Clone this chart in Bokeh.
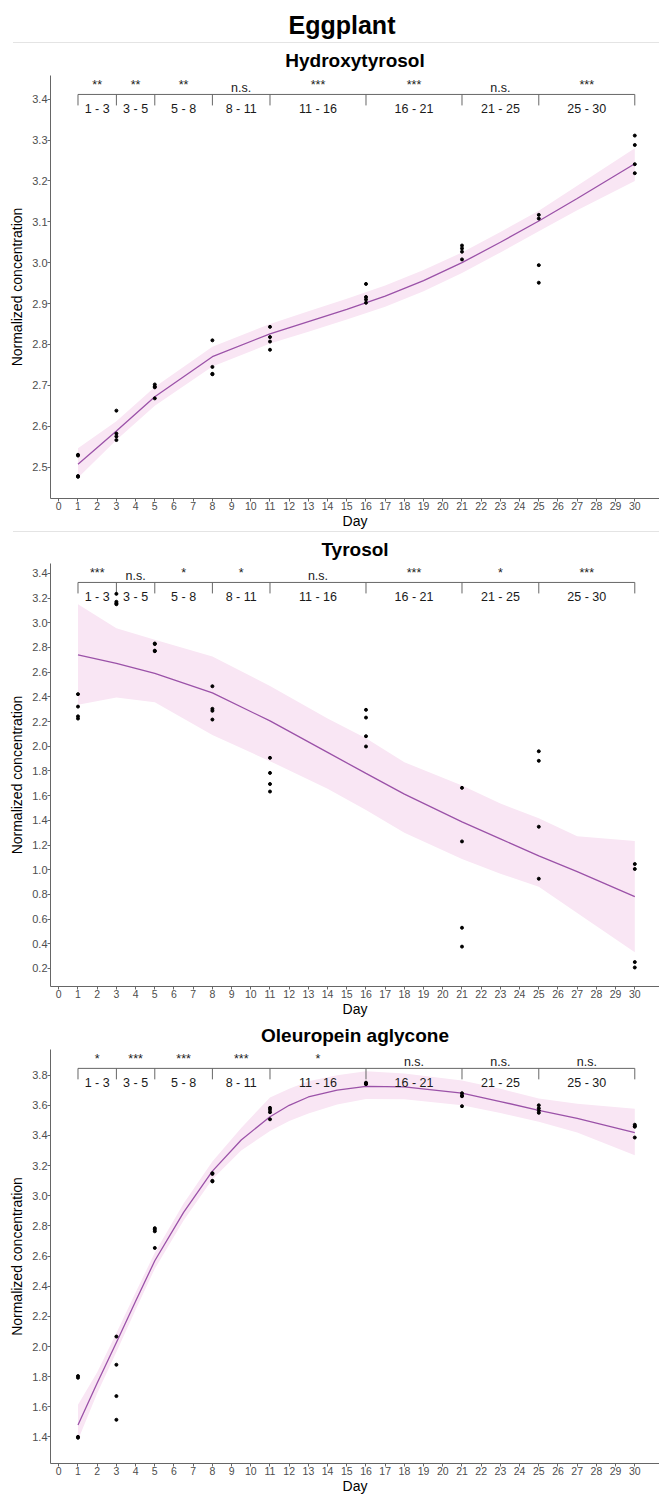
from bokeh.plotting import figure
from bokeh.models import Div, Range1d, FixedTicker, NumeralTickFormatter
from bokeh.layouts import column
from bokeh.embed import file_html
from bokeh.resources import INLINE
from bokeh.core.properties import value

FONT = "Liberation Sans"

# ---------------- data ----------------
bracket_days = [1, 3, 5, 8, 11, 16, 21, 25, 30]
bracket_labels = ["1 - 3", "3 - 5", "5 - 8", "8 - 11", "11 - 16", "16 - 21", "21 - 25", "25 - 30"]

# Hydroxytyrosol
hyd_day = [1, 1, 1, 1, 3, 3, 3, 3, 5, 5, 5, 5, 8, 8, 8, 8, 11, 11, 11, 11,
           16, 16, 16, 16, 21, 21, 21, 21, 25, 25, 25, 25, 30, 30, 30, 30]
hyd_val = [2.530, 2.528, 2.478, 2.476, 2.638, 2.582, 2.575, 2.566, 2.702, 2.697, 2.695, 2.668,
           2.810, 2.745, 2.728, 2.727, 2.843, 2.818, 2.807, 2.787,
           2.948, 2.916, 2.910, 2.902, 3.042, 3.035, 3.027, 3.008,
           3.117, 3.108, 2.994, 2.951, 3.311, 3.288, 3.241, 3.219]
hyd_fit_day = [1, 3, 5, 8, 11, 13, 15, 17, 19, 21, 23, 25, 27, 30]
hyd_fit = [2.507, 2.588, 2.672, 2.770, 2.826, 2.856, 2.886, 2.918, 2.956, 3.000, 3.050, 3.102, 3.157, 3.242]
hyd_lo = [2.474, 2.566, 2.650, 2.746, 2.802, 2.831, 2.861, 2.892, 2.930, 2.975, 3.025, 3.077, 3.128, 3.200]
hyd_hi = [2.546, 2.612, 2.696, 2.794, 2.850, 2.881, 2.912, 2.944, 2.982, 3.025, 3.075, 3.127, 3.188, 3.280]
hyd_sig = ["**", "**", "**", "n.s.", "***", "***", "n.s.", "***"]
hyd_yticks = [2.5, 2.6, 2.7, 2.8, 2.9, 3.0, 3.1, 3.2, 3.3, 3.4]

# Tyrosol
tyr_day = [1, 1, 1, 1, 3, 3, 3, 3, 5, 5, 5, 5, 8, 8, 8, 8, 11, 11, 11, 11,
           16, 16, 16, 16, 21, 21, 21, 21, 25, 25, 25, 25, 30, 30, 30, 30]
tyr_val = [2.422, 2.321, 2.242, 2.224, 3.234, 3.170, 3.158, 3.150, 2.832, 2.828, 2.774, 2.770,
           2.486, 2.303, 2.287, 2.216, 1.906, 1.784, 1.694, 1.633,
           2.295, 2.232, 2.081, 1.998, 1.663, 1.229, 0.530, 0.377,
           1.959, 1.882, 1.348, 0.927, 1.046, 1.006, 0.252, 0.208]
tyr_fit_day = [1, 3, 5, 8, 11, 14, 16, 18, 21, 23, 25, 27, 30]
tyr_fit = [2.740, 2.672, 2.590, 2.432, 2.205, 1.950, 1.780, 1.612, 1.388, 1.250, 1.112, 0.985, 0.782]
tyr_lo = [2.335, 2.395, 2.356, 2.091, 1.879, 1.655, 1.483, 1.300, 1.086, 0.967, 0.861, 0.649, 0.332]
tyr_hi = [3.149, 2.955, 2.863, 2.726, 2.488, 2.224, 2.065, 1.870, 1.681, 1.536, 1.417, 1.271, 1.232]
tyr_sig = ["***", "n.s.", "*", "*", "n.s.", "***", "*", "***"]
tyr_yticks = [0.2, 0.4, 0.6, 0.8, 1.0, 1.2, 1.4, 1.6, 1.8, 2.0, 2.2, 2.4, 2.6, 2.8, 3.0, 3.2, 3.4]

# Oleuropein aglycone
ole_day = [1, 1, 1, 1, 3, 3, 3, 3, 5, 5, 5, 5, 8, 8, 8, 8, 11, 11, 11, 11,
           16, 16, 16, 16, 21, 21, 21, 21, 25, 25, 25, 25, 30, 30, 30, 30]
ole_val = [1.804, 1.793, 1.401, 1.395, 2.066, 1.879, 1.671, 1.514, 2.785, 2.775, 2.764, 2.654,
           3.150, 3.145, 3.099, 3.095, 3.583, 3.571, 3.554, 3.507,
           3.750, 3.745, 3.743, 3.740, 3.680, 3.665, 3.660, 3.594,
           3.600, 3.580, 3.565, 3.550, 3.471, 3.462, 3.458, 3.386]
ole_fit_day = [1, 2, 3, 4, 5, 6.5, 8, 9.5, 11, 12, 13, 14.5, 16, 18, 21, 23, 25, 27, 30]
ole_fit = [1.479, 1.758, 2.027, 2.300, 2.569, 2.890, 3.163, 3.370, 3.524, 3.600, 3.655, 3.700,
           3.726, 3.722, 3.680, 3.625, 3.566, 3.513, 3.418]
ole_lo = [1.380, 1.690, 1.964, 2.244, 2.516, 2.835, 3.110, 3.300, 3.429, 3.495, 3.545, 3.605,
          3.641, 3.640, 3.600, 3.548, 3.490, 3.420, 3.269]
ole_hi = [1.613, 1.830, 2.090, 2.358, 2.622, 2.948, 3.227, 3.450, 3.652, 3.710, 3.760, 3.800,
          3.826, 3.810, 3.765, 3.710, 3.645, 3.610, 3.577]
ole_sig = ["*", "***", "***", "***", "*", "n.s.", "n.s.", "n.s."]
ole_yticks = [1.4, 1.6, 1.8, 2.0, 2.2, 2.4, 2.6, 2.8, 3.0, 3.2, 3.4, 3.6, 3.8]

x_ticks = list(range(0, 31))

# ---------------- styling ----------------
AXIS_COL = "#666666"
TICK_TXT = "#4d4d4d"
LINE_COL = "#9b52a8"
BAND_COL = "#f9e6f4"
W = 659
LEFT = 50
X_START = -0.432
X_END = X_START + (W - LEFT) / 19.2


def panel(title, days, vals, fday, fmid, flo, fhi, sig, yticks, y0, y1,
          height, top, bottom, standoff):
    p = figure(width=W, height=height, x_range=Range1d(X_START, X_END),
               y_range=Range1d(y0, y1), output_backend="svg", toolbar_location=None,
               min_border_left=LEFT, min_border_right=0, min_border_top=top,
               min_border_bottom=bottom)
    p.outline_line_color = None
    p.grid.visible = False
    p.background_fill_color = "white"
    p.border_fill_color = "white"
    frame_h = height - top - bottom
    ppu = frame_h / (y1 - y0)

    def below_top(px):
        return y1 - px / ppu

    # panel title
    p.title.text = title
    p.title.align = "center"
    p.title.offset = 0
    p.title.standoff = standoff
    p.title.text_font = FONT
    p.title.text_font_size = "19px"
    p.title.text_font_style = "bold"
    p.title.text_color = "black"

    # fitted band + line
    p.varea(x=fday, y1=flo, y2=fhi, fill_color=BAND_COL, fill_alpha=1.0)
    p.line(x=fday, y=fmid, line_color=LINE_COL, line_width=1.3)

    # significance brackets
    yb = below_top(19.3)
    ytick_end = below_top(30.5)
    p.segment(x0=[bracket_days[0]], y0=[yb], x1=[bracket_days[-1]], y1=[yb],
              line_color=AXIS_COL, line_width=1)
    p.segment(x0=bracket_days, y0=[yb] * len(bracket_days), x1=bracket_days,
              y1=[ytick_end] * len(bracket_days), line_color=AXIS_COL, line_width=1)
    mids = [(a + b) / 2 for a, b in zip(bracket_days[:-1], bracket_days[1:])]
    p.text(x=mids, y=[below_top(34)] * len(mids), text=bracket_labels,
           text_align="center", text_baseline="alphabetic",
           text_font=value(FONT), text_font_size="12.5px", text_color="#1a1a1a")
    sig_y = [below_top(13.0 if s == "n.s." else 9.5) for s in sig]
    p.text(x=mids, y=sig_y, text=sig,
           text_align="center", text_baseline="alphabetic",
           text_font=value(FONT), text_font_size="12.5px", text_color="#1a1a1a")

    # points
    p.scatter(x=days, y=vals, size=3.0, fill_color="black", line_color="black")

    # axes
    for ax in (p.xaxis[0], p.yaxis[0]):
        ax.axis_line_color = AXIS_COL
        ax.axis_line_width = 1
        ax.major_tick_line_color = AXIS_COL
        ax.major_tick_out = 3
        ax.major_tick_in = 0
        ax.minor_tick_line_color = None
        ax.major_label_text_color = TICK_TXT
        ax.major_label_text_font = FONT
        ax.axis_label_text_font = FONT
        ax.axis_label_text_font_style = "normal"
        ax.axis_label_text_font_size = "14px"
        ax.axis_label_text_color = "black"
        ax.major_label_standoff = 0
    p.xaxis.ticker = FixedTicker(ticks=x_ticks)
    p.xaxis.major_label_text_font_size = "10.5px"
    p.xaxis.axis_label = "Day"
    p.xaxis.axis_label_standoff = 0
    p.yaxis.ticker = FixedTicker(ticks=yticks)
    p.yaxis.formatter = NumeralTickFormatter(format="0.0")
    p.yaxis.major_label_text_font_size = "11px"
    p.yaxis.axis_label = "Normalized concentration"
    p.yaxis.axis_label_standoff = 4
    return p


p1 = panel("Hydroxytyrosol", hyd_day, hyd_val, hyd_fit_day, hyd_fit, hyd_lo, hyd_hi,
           hyd_sig, hyd_yticks, 2.423, 3.458, 488, 24, 33, 9)
p2 = panel("Tyrosol", tyr_day, tyr_val, tyr_fit_day, tyr_fit, tyr_lo, tyr_hi,
           tyr_sig, tyr_yticks, 0.054, 3.48, 487, 23, 33, 8)
p3 = panel("Oleuropein aglycone", ole_day, ole_val, ole_fit_day, ole_fit, ole_lo, ole_hi,
           ole_sig, ole_yticks, 1.224, 3.97, 478, 21, 34, 7)

header = Div(text="Eggplant", width=W, height=42, margin=0,
             styles={"font-family": "'Liberation Sans', Arial, sans-serif",
                     "font-size": "25px", "font-weight": "bold",
                     "text-align": "center", "line-height": "50px",
                     "text-indent": "25px", "color": "black"})
sep1 = Div(text="", width=W - 13, height=1, margin=(0, 0, 0, 13),
           styles={"background-color": "#e4e4e4"})
sep2 = Div(text="", width=W - 13, height=1, margin=(0, 0, 0, 13),
           styles={"background-color": "#e4e4e4"})

layout = column(header, sep1, p1, sep2, p2, p3, spacing=0)

open("out.html", "w").write(file_html(layout, INLINE))
